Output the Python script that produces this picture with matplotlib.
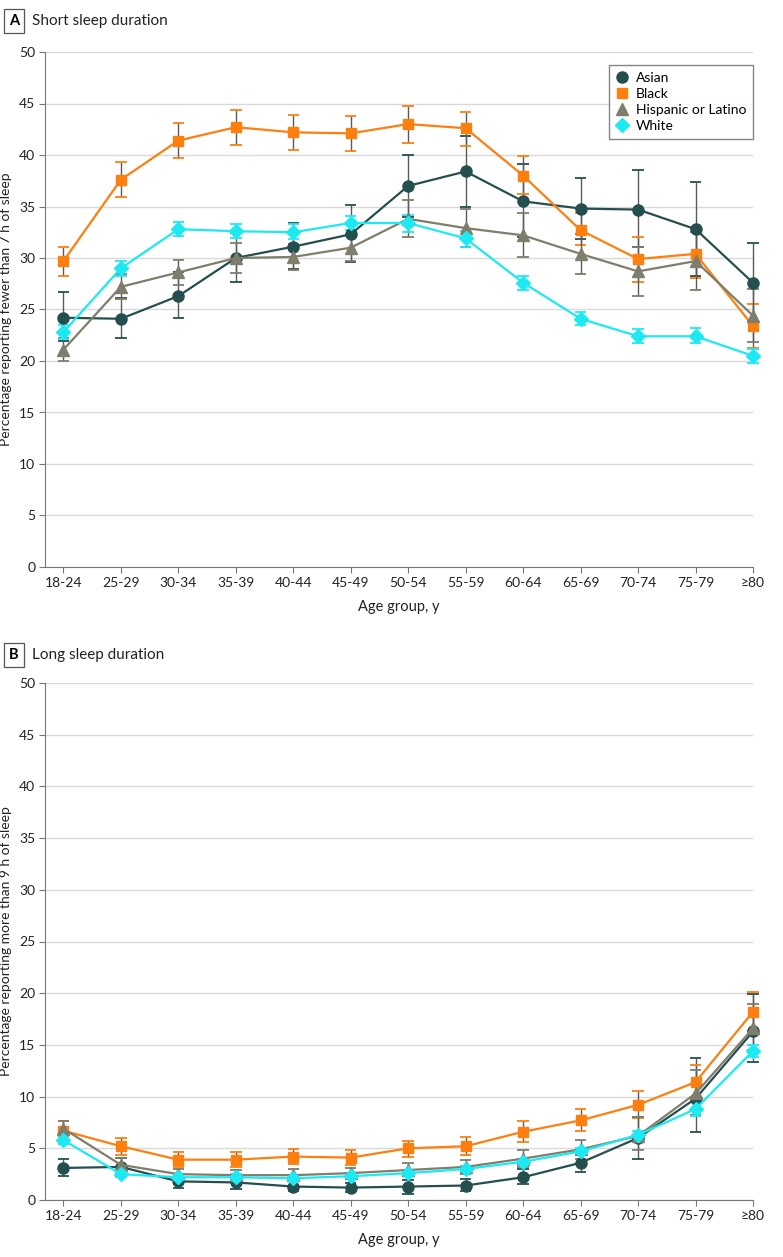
import matplotlib.pyplot as plt

plt.rcParams['font.family'] = ['Lato', 'DejaVu Sans']

ages = ['18-24', '25-29', '30-34', '35-39', '40-44', '45-49', '50-54',
        '55-59', '60-64', '65-69', '70-74', '75-79', '≥80']
groups = ['Asian', 'Black', 'Hispanic or Latino', 'White']

# Panel A: short sleep (<7 h), estimate, lower CI, upper CI
short_asian = [24.2, 24.1, 26.3, 30.0, 31.1, 32.3, 37.0, 38.4, 35.5, 34.8, 34.7, 32.8, 27.6]
short_asian_lo = [21.9, 22.2, 24.2, 27.7, 28.9, 29.6, 34.0, 35.0, 32.0, 31.8, 31.1, 28.3, 23.9]
short_asian_hi = [26.7, 26.1, 28.6, 32.4, 33.4, 35.1, 40.0, 41.8, 39.1, 37.8, 38.5, 37.4, 31.5]
short_black = [29.7, 37.6, 41.4, 42.7, 42.2, 42.1, 43.0, 42.6, 38.0, 32.7, 29.9, 30.4, 23.4]
short_black_lo = [28.3, 35.9, 39.7, 41.0, 40.5, 40.4, 41.2, 40.9, 36.2, 31.3, 27.7, 28.1, 21.3]
short_black_hi = [31.1, 39.3, 43.1, 44.4, 43.9, 43.8, 44.8, 44.2, 39.9, 34.4, 32.0, 32.8, 25.5]
short_hisp = [21.1, 27.2, 28.6, 30.0, 30.1, 31.0, 33.8, 32.9, 32.2, 30.4, 28.7, 29.7, 24.4]
short_hisp_lo = [20.0, 26.0, 27.4, 28.5, 28.8, 29.7, 32.0, 31.1, 30.1, 28.4, 26.3, 26.9, 21.8]
short_hisp_hi = [22.2, 28.4, 29.8, 31.5, 31.4, 32.3, 35.6, 34.8, 34.4, 32.3, 31.1, 32.5, 27.0]
short_white = [22.8, 29.0, 32.8, 32.6, 32.5, 33.4, 33.4, 31.9, 27.6, 24.1, 22.4, 22.4, 20.5]
short_white_lo = [22.1, 28.3, 32.1, 31.9, 31.8, 32.7, 32.5, 31.1, 26.9, 23.5, 21.7, 21.7, 19.8]
short_white_hi = [23.5, 29.7, 33.5, 33.3, 33.3, 34.1, 34.2, 32.6, 28.3, 24.8, 23.1, 23.2, 21.2]

# Panel B: long sleep (>9 h)
long_asian = [3.1, 3.2, 1.8, 1.7, 1.3, 1.2, 1.3, 1.4, 2.2, 3.6, 6.0, 9.8, 16.3]
long_asian_lo = [2.3, 2.3, 1.2, 1.1, 0.9, 0.8, 0.6, 0.9, 1.5, 2.7, 4.0, 6.6, 13.3]
long_asian_hi = [4.0, 4.1, 2.3, 2.3, 1.8, 1.6, 1.9, 2.0, 3.0, 4.6, 8.0, 13.7, 19.9]
long_black = [6.7, 5.2, 3.9, 3.9, 4.2, 4.1, 5.0, 5.2, 6.6, 7.7, 9.2, 11.4, 18.2]
long_black_lo = [5.9, 4.4, 3.2, 3.2, 3.5, 3.4, 4.2, 4.4, 5.6, 6.7, 7.9, 9.7, 16.3]
long_black_hi = [7.6, 6.0, 4.6, 4.6, 4.9, 4.8, 5.7, 6.1, 7.6, 8.8, 10.5, 13.1, 20.1]
long_hisp = [6.9, 3.4, 2.5, 2.4, 2.4, 2.6, 2.9, 3.2, 4.0, 4.9, 6.2, 10.3, 16.6]
long_hisp_lo = [6.2, 2.8, 2.0, 1.9, 1.9, 2.1, 2.3, 2.5, 3.2, 4.0, 4.8, 8.2, 14.5]
long_hisp_hi = [7.6, 4.1, 3.0, 2.9, 3.0, 3.1, 3.6, 3.9, 4.8, 5.8, 8.0, 12.6, 19.0]
long_white = [5.8, 2.5, 2.2, 2.2, 2.1, 2.3, 2.6, 3.0, 3.7, 4.7, 6.3, 8.8, 14.4]
long_white_lo = [5.4, 2.2, 1.9, 1.9, 1.8, 2.0, 2.3, 2.7, 3.4, 4.4, 5.9, 8.1, 13.8]
long_white_hi = [6.2, 2.8, 2.5, 2.5, 2.4, 2.6, 2.9, 3.3, 4.0, 5.0, 6.7, 9.5, 15.0]

colors = ['#254f4e', '#ff7f0e', '#7f7d6b', '#1de9f2']
markers = ['o', 's', '^', 'D']
msizes = [8, 7.5, 8.5, 7]

fig = plt.figure(figsize=(7.83, 12.57), dpi=100)
W, H = 783, 1257
ax_a = fig.add_axes([45 / W, 1 - 567 / H, 708 / W, 515 / H])
ax_b = fig.add_axes([45 / W, 1 - 1200 / H, 708 / W, 517 / H])

x = list(range(len(ages)))


def draw_panel(ax, series, ylabel, letter, title, title_y, legend):
    for (vals, lo, hi), c, m, ms, name in zip(series, colors, markers, msizes, groups):
        # gray whiskers with coloured caps
        ax.vlines(x, lo, hi, color='#5a5a5a', lw=1.0, zorder=2, clip_on=False)
        ax.hlines(lo, [i - 0.1 for i in x], [i + 0.1 for i in x], color=c, lw=1.3, zorder=2, clip_on=False)
        ax.hlines(hi, [i - 0.1 for i in x], [i + 0.1 for i in x], color=c, lw=1.3, zorder=2, clip_on=False)
        ax.plot(x, vals, color=c, lw=1.6, marker=m, ms=ms, label=name, zorder=3, clip_on=False)
    ax.set_xlim(-0.32, 12)
    ax.set_ylim(0, 50)
    ax.set_yticks(range(0, 51, 5))
    ax.set_xticks(x)
    ax.set_xticklabels(ages)
    ax.grid(axis='y', color='#d9d9d9', lw=1.0, zorder=0)
    ax.set_axisbelow(True)
    for s in ['top', 'right']:
        ax.spines[s].set_visible(False)
    for s in ['left', 'bottom']:
        ax.spines[s].set_color('#777777')
    ax.tick_params(colors='#777777', labelcolor='#222222', labelsize=10, length=4, pad=3)
    ax.set_xlabel('Age group, y', fontsize=10.5, color='#222222', labelpad=8)
    ax.set_ylabel(ylabel, fontsize=10, color='#222222')
    ax.yaxis.set_label_coords(-0.047, 0.5)
    # panel label in a box + title
    ax.text(-0.044, title_y, letter, transform=ax.transAxes, fontsize=10.5, fontweight='bold',
            ha='center', va='center',
            bbox=dict(boxstyle='square,pad=0.35', fc='white', ec='#555555', lw=0.9))
    ax.text(-0.018, title_y, title, transform=ax.transAxes, fontsize=11, ha='left', va='center',
            color='#222222')
    if legend:
        ax.legend(loc='upper right', bbox_to_anchor=(1.0, 0.975), borderaxespad=0,
                  frameon=True, fancybox=False,
                  edgecolor='#666666', fontsize=10, handlelength=0.8, handletextpad=0.6,
                  borderpad=0.5, labelspacing=0.3)
        for ln in ax.get_legend().get_lines():
            ln.set_linestyle('none')


draw_panel(ax_a,
           [(short_asian, short_asian_lo, short_asian_hi),
            (short_black, short_black_lo, short_black_hi),
            (short_hisp, short_hisp_lo, short_hisp_hi),
            (short_white, short_white_lo, short_white_hi)],
           'Percentage reporting fewer than 7 h of sleep', 'A', 'Short sleep duration', 1.06, True)
draw_panel(ax_b,
           [(long_asian, long_asian_lo, long_asian_hi),
            (long_black, long_black_lo, long_black_hi),
            (long_hisp, long_hisp_lo, long_hisp_hi),
            (long_white, long_white_lo, long_white_hi)],
           'Percentage reporting more than 9 h of sleep', 'B', 'Long sleep duration', 1.054, False)

fig.savefig('out.png', dpi=100)
